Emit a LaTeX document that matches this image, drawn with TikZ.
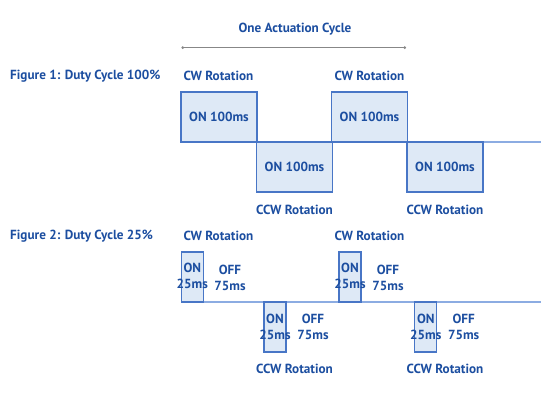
\documentclass[tikz,border=0pt]{standalone}
\usepackage{fontspec}
\setmainfont{PT Sans}
\usetikzlibrary{arrows.meta}
\definecolor{txt}{RGB}{28,78,160}
\definecolor{edge}{RGB}{72,118,198}
\definecolor{fillb}{RGB}{222,233,246}
\definecolor{base}{RGB}{140,172,226}
\definecolor{arr}{RGB}{135,135,135}
\tikzset{
  lbl/.style={text=txt, font=\bfseries\fontsize{13.2}{15}\selectfont, inner sep=0pt},
  two/.style={lbl, align=center, font=\bfseries\fontsize{13.2}{16}\selectfont},
  pulse/.style={draw=edge, fill=fillb, line width=1.3pt, inner sep=0pt, text=txt,
                font=\bfseries\fontsize{13.2}{16}\selectfont, align=center},
  bigpulse/.style={pulse, minimum width=76pt, minimum height=50pt},
  smallpulse/.style={pulse, minimum width=22pt, minimum height=50pt},
  baseln/.style={draw=base, line width=1.2pt},
  span/.style={draw=arr, line width=1pt, {Circle[length=2.5pt]}-{Circle[length=2.5pt]}}
}
\begin{document}
\begin{tikzpicture}[x=1pt,y=-1pt]
\useasboundingbox (0,0) rectangle (550,400);
% title
\node[lbl] (title) at (295,29) {One Actuation Cycle};
\coordinate (sL) at (181.5,47.7);
\coordinate (sR) at (406,47.7);
\draw[span] (sL) -- (sR);
% Figure 1
\node[lbl, anchor=west] (f1) at (10,76) {Figure 1: Duty Cycle 100\%};
\coordinate (b1s) at (181,142);
\coordinate (b1e) at (541,142);
\draw[baseln] (b1s) -- (b1e);
\node[bigpulse] (p1) at (219,117) {ON 100ms};
\node[bigpulse] (p2) at (294.5,167) {ON 100ms};
\node[bigpulse] (p3) at (369.5,117) {ON 100ms};
\node[bigpulse] (p4) at (445,167) {ON 100ms};
\node[lbl] (cw1) at (218.5,76) {CW Rotation};
\node[lbl] (ccw1) at (294.5,210) {CCW Rotation};
\node[lbl] (cw2) at (369.5,76) {CW Rotation};
\node[lbl] (ccw2) at (445,210) {CCW Rotation};
% Figure 2
\node[lbl, anchor=west] (f2) at (10,236) {Figure 2: Duty Cycle 25\%};
\coordinate (b2s) at (181,302);
\coordinate (b2e) at (541,302);
\draw[baseln] (b2s) -- (b2e);
\node[smallpulse] (q1) at (192.3,277) {};
\node[smallpulse] (q2) at (275,327) {};
\node[smallpulse] (q3) at (350,277) {};
\node[smallpulse] (q4) at (425.8,327) {};
\node[two] (n1) at ([yshift=1pt]q1.center) {ON\\25ms};
\node[two] (n2) at (q2.center) {ON\\25ms};
\node[two] (n3) at ([yshift=1pt]q3.center) {ON\\25ms};
\node[two] (n4) at (q4.center) {ON\\25ms};
\node[two] (o1) at (230,278) {OFF\\75ms};
\node[two] (o2) at (313,327) {OFF\\75ms};
\node[two] (o3) at (388,278) {OFF\\75ms};
\node[two] (o4) at (463.7,327) {OFF\\75ms};
\node[lbl] (cw3) at (218.5,236) {CW Rotation};
\node[lbl] (ccw3) at (294.5,369) {CCW Rotation};
\node[lbl] (cw4) at (369.5,236) {CW Rotation};
\node[lbl] (ccw4) at (445,369) {CCW Rotation};
\end{tikzpicture}
\end{document}
